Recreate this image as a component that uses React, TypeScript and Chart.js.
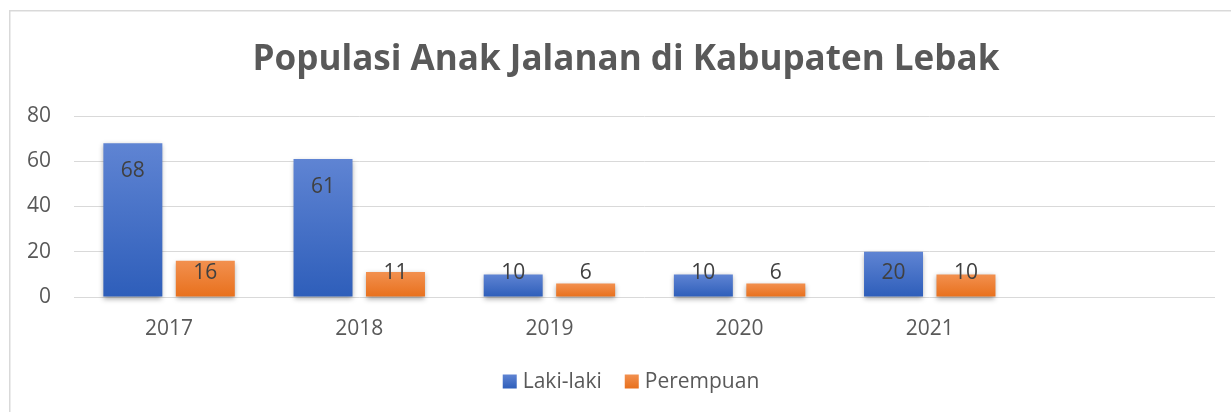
import React, { useEffect, useRef } from "react";
import { Chart, registerables } from "chart.js";

Chart.register(...registerables);

const TITLE = "Populasi Anak Jalanan di Kabupaten Lebak";
const CATEGORIES = ["2017", "2018", "2019", "2020", "2021", ""];
const SERIES_NAMES = ["Laki-laki", "Perempuan"];
const LAKI_LAKI = [68, 61, 10, 10, 20, null];
const PEREMPUAN = [16, 11, 6, 6, 10, null];
const Y_MIN = 0;
const Y_MAX = 80;
const Y_STEP = 20;

const FONT = '"Open Sans", "Noto Sans", sans-serif';
const TEXT = "#595959";
const LABEL_TEXT = "#404040";
const GRID = "#d9d9d9";
const BLUE = ["#5f84d3", "#2e5eba"];
const ORANGE = ["#f2904f", "#e8701c"];

const W = 1231;
const H = 412;

function barGradient(colors: string[]) {
  return (ctx: any) => {
    const chart = ctx.chart;
    const y = chart.scales && chart.scales.y;
    if (!chart.chartArea || !y || ctx.raw == null) return colors[1];
    const top = y.getPixelForValue(ctx.raw);
    const base = y.getPixelForValue(0);
    const g = chart.ctx.createLinearGradient(0, top, 0, base);
    g.addColorStop(0, colors[0]);
    g.addColorStop(1, colors[1]);
    return g;
  };
}

const decorPlugin = {
  id: "decor",
  beforeDraw(chart: any) {
    const ctx = chart.ctx;
    ctx.save();
    ctx.fillStyle = "#ffffff";
    ctx.fillRect(0, 0, W, H);
    ctx.strokeStyle = GRID;
    ctx.lineWidth = 1.5;
    ctx.strokeRect(9.75, 10.75, W + 50, H + 50);
    // title
    let size = 38;
    ctx.font = `bold ${size}px ${FONT}`;
    const w = ctx.measureText(TITLE).width;
    size = Math.min(38, (size * 747) / w);
    ctx.font = `bold ${size}px ${FONT}`;
    ctx.fillStyle = TEXT;
    ctx.textAlign = "center";
    ctx.textBaseline = "alphabetic";
    ctx.fillText(TITLE, 626, 70);
    // legend
    ctx.font = `21px ${FONT}`;
    const box = 14;
    const gap = 6;
    const itemGap = 23;
    const widths = SERIES_NAMES.map((n) => ctx.measureText(n).width);
    const total = widths.reduce((a, b) => a + b + box + gap, 0) + itemGap * (SERIES_NAMES.length - 1);
    let x = 631 - total / 2;
    const cy = 381.5;
    const cols = [BLUE, ORANGE];
    SERIES_NAMES.forEach((n, i) => {
      const g = ctx.createLinearGradient(0, cy - box / 2, 0, cy + box / 2);
      g.addColorStop(0, cols[i][0]);
      g.addColorStop(1, cols[i][1]);
      ctx.fillStyle = g;
      ctx.fillRect(x, cy - box / 2, box, box);
      ctx.fillStyle = TEXT;
      ctx.textAlign = "left";
      ctx.textBaseline = "middle";
      ctx.fillText(n, x + box + gap, cy + 1);
      x += box + gap + widths[i] + itemGap;
    });
    ctx.restore();
  },
  beforeDatasetsDraw(chart: any) {
    const ctx = chart.ctx;
    ctx.save();
    ctx.shadowColor = "rgba(0,0,0,0.35)";
    ctx.shadowBlur = 5;
    ctx.shadowOffsetY = 2;
  },
  afterDatasetsDraw(chart: any) {
    const ctx = chart.ctx;
    ctx.restore();
    ctx.save();
    ctx.font = `21px ${FONT}`;
    ctx.fillStyle = LABEL_TEXT;
    ctx.textAlign = "center";
    ctx.textBaseline = "middle";
    chart.data.datasets.forEach((ds: any, di: number) => {
      const meta = chart.getDatasetMeta(di);
      meta.data.forEach((el: any, i: number) => {
        const v = ds.data[i];
        if (v == null) return;
        const y = Math.min(el.y + 27, el.base - 24.5);
        ctx.fillText(String(v), el.x, y + 1);
      });
    });
    ctx.restore();
  },
};

export default function App() {
  const ref = useRef<HTMLCanvasElement | null>(null);
  useEffect(() => {
    if (!ref.current) return;
    const chart = new Chart(ref.current, {
      type: "bar",
      data: {
        labels: CATEGORIES,
        datasets: [
          {
            label: SERIES_NAMES[0],
            data: LAKI_LAKI,
            backgroundColor: barGradient(BLUE),
            categoryPercentage: 0.762,
            barPercentage: 0.814,
            clip: false as any,
          },
          {
            label: SERIES_NAMES[1],
            data: PEREMPUAN,
            backgroundColor: barGradient(ORANGE),
            categoryPercentage: 0.762,
            barPercentage: 0.814,
            clip: false as any,
          },
        ],
      },
      options: {
        animation: false,
        responsive: false,
        layout: { padding: { top: 116, left: 0, right: 16, bottom: 75 } },
        plugins: {
          legend: { display: false },
          title: { display: false },
          tooltip: { enabled: false },
        },
        scales: {
          x: {
            grid: { display: false, drawTicks: false },
            border: { display: false },
            ticks: { color: TEXT, font: { family: FONT, size: 21 }, padding: 19 },
            afterFit(scale: any) {
              scale.height = 40;
            },
          },
          y: {
            min: Y_MIN,
            max: Y_MAX,
            ticks: { stepSize: Y_STEP, color: TEXT, font: { family: FONT, size: 21 }, padding: 23 },
            grid: { color: GRID, lineWidth: 1, drawTicks: false },
            border: { display: false },
            afterFit(scale: any) {
              scale.width = 74;
            },
          },
        },
      },
      plugins: [decorPlugin],
    });
    return () => chart.destroy();
  }, []);
  return (
    <div style={{ position: "absolute", left: 0, top: 0, width: W, height: H, background: "#fff" }}>
      <canvas ref={ref} width={W} height={H} style={{ width: W, height: H, display: "block" }} />
    </div>
  );
}
